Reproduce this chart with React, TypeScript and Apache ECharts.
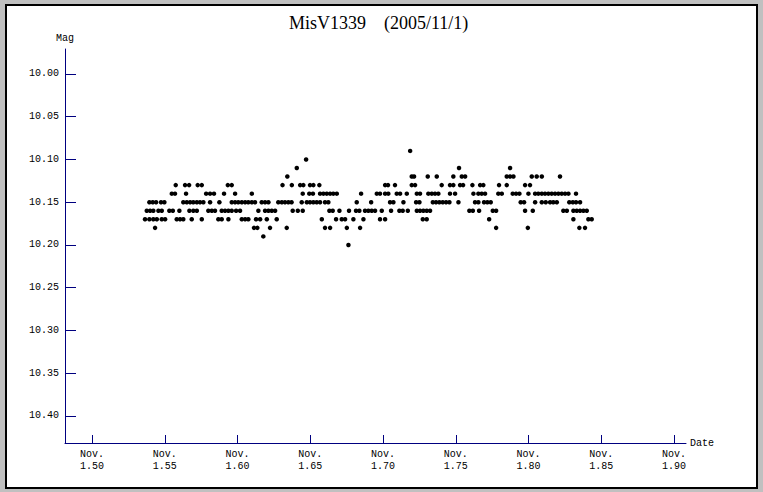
import React, { useEffect, useRef } from "react";
import * as echarts from "echarts";

// Observation dates (day of November, UT) grouped by measured magnitude
const magLevels = [10.09, 10.1, 10.11, 10.12, 10.13, 10.14, 10.15, 10.16, 10.17, 10.18, 10.19, 10.2];

const m1009 = [1.7186];
const m1010 = [1.6471];
const m1011 = [1.6407, 1.7522, 1.7873];
const m1012 = [1.6342, 1.7197, 1.7213, 1.7307, 1.7369, 1.7483, 1.7541, 1.7564, 1.785, 1.7873, 1.7896, 1.8022, 1.8056, 1.8091, 1.8216];
const m1013 = [1.5575, 1.5639, 1.5667, 1.5726, 1.5754, 1.5933, 1.596, 1.6309, 1.6373, 1.643, 1.6452, 1.6498, 1.6521, 1.6562, 1.7014, 1.7034, 1.7082, 1.7197, 1.722, 1.7403, 1.746, 1.7483, 1.7529, 1.755, 1.7614, 1.7667, 1.7689, 1.7797, 1.785, 1.7976, 1.801];
const m1014 = [1.5548, 1.557, 1.5646, 1.5784, 1.5811, 1.5838, 1.5907, 1.5983, 1.6098, 1.6448, 1.6493, 1.6518, 1.6567, 1.659, 1.6613, 1.6636, 1.6658, 1.6682, 1.6849, 1.6957, 1.6979, 1.7014, 1.7036, 1.7094, 1.7117, 1.7163, 1.7232, 1.7254, 1.7311, 1.7335, 1.7357, 1.738, 1.746, 1.7495, 1.7621, 1.7655, 1.7678, 1.7701, 1.7792, 1.7816, 1.7891, 1.7914, 1.7937, 1.7999, 1.8045, 1.8067, 1.8091, 1.8113, 1.8136, 1.8159, 1.8182, 1.8205, 1.8228, 1.8251, 1.8274, 1.8326];
const m1015 = [1.5394, 1.5417, 1.544, 1.5474, 1.5497, 1.5627, 1.5651, 1.5674, 1.5696, 1.572, 1.5742, 1.5765, 1.5811, 1.5875, 1.596, 1.5983, 1.6005, 1.6029, 1.6052, 1.6074, 1.6098, 1.612, 1.6166, 1.6189, 1.6212, 1.628, 1.6304, 1.6326, 1.6349, 1.6371, 1.6441, 1.6476, 1.6498, 1.6521, 1.6544, 1.6567, 1.6601, 1.6624, 1.6819, 1.6918, 1.7048, 1.7071, 1.714, 1.7227, 1.725, 1.7342, 1.7364, 1.7387, 1.741, 1.7433, 1.7456, 1.7518, 1.7632, 1.7655, 1.7694, 1.7717, 1.774, 1.7946, 1.7969, 1.8045, 1.8091, 1.8118, 1.8148, 1.817, 1.8194, 1.828, 1.8304, 1.8326, 1.8354];
const m1016 = [1.5376, 1.5399, 1.5421, 1.5456, 1.5479, 1.5531, 1.5555, 1.56, 1.5669, 1.5696, 1.572, 1.5799, 1.5823, 1.5845, 1.5891, 1.5914, 1.5937, 1.596, 1.599, 1.6017, 1.6143, 1.6189, 1.6212, 1.6235, 1.6258, 1.6379, 1.6414, 1.6448, 1.6631, 1.6654, 1.67, 1.6766, 1.6814, 1.6837, 1.6876, 1.6899, 1.6922, 1.6945, 1.6991, 1.7055, 1.7112, 1.7135, 1.717, 1.7232, 1.7254, 1.7277, 1.73, 1.7323, 1.7593, 1.7617, 1.766, 1.7754, 1.7777, 1.7976, 1.8029, 1.8239, 1.8263, 1.8308, 1.8331, 1.8354, 1.8377, 1.84];
const m1017 = [1.5364, 1.5394, 1.5421, 1.5445, 1.5479, 1.5502, 1.5582, 1.5605, 1.5627, 1.5685, 1.5754, 1.5868, 1.5891, 1.5937, 1.6029, 1.6052, 1.6074, 1.6127, 1.6155, 1.6201, 1.6269, 1.6579, 1.6677, 1.6716, 1.6739, 1.6796, 1.6865, 1.6979, 1.7014, 1.7273, 1.73, 1.7729, 1.8308, 1.8411, 1.8434];
const m1018 = [1.5433, 1.6113, 1.6136, 1.6223, 1.6338, 1.6601, 1.6636, 1.6751, 1.6842, 1.7777, 1.7995, 1.8349, 1.8388];
const m1019 = [1.6177];
const m1020 = [1.6762];

const dateLists = [m1009, m1010, m1011, m1012, m1013, m1014, m1015, m1016, m1017, m1018, m1019, m1020];

const xTicks = [1.5, 1.55, 1.6, 1.65, 1.7, 1.75, 1.8, 1.85, 1.9];
const yTicks = [10.0, 10.05, 10.1, 10.15, 10.2, 10.25, 10.3, 10.35, 10.4];

const titleText = "MisV1339\u3000(2005/11/1)";

export default function App() {
  const ref = useRef<HTMLDivElement>(null);

  useEffect(() => {
    if (!ref.current) return;
    const chart = echarts.init(ref.current, null, { renderer: "svg" });
    const points: number[][] = [];
    magLevels.forEach((m, i) => {
      dateLists[i].forEach((d) => points.push([d, m]));
    });
    const axisColor = "#000080";
    const mono = "'Liberation Mono', 'DejaVu Sans Mono', monospace";
    chart.setOption({
      animation: false,
      backgroundColor: "transparent",
      graphic: [
        {
          type: "rect",
          z: -10,
          silent: true,
          shape: { x: 6, y: 5, width: 751, height: 483 },
          style: { fill: "#ffffff", stroke: "#000000", lineWidth: 2 },
        },
      ],
      title: {
        text: titleText,
        left: 284,
        top: 9,
        textStyle: {
          fontFamily: "'Liberation Serif', serif",
          fontSize: 18,
          fontWeight: "normal",
          color: "#000000",
        },
      },
      grid: { left: 65, top: 49, right: 77, bottom: 49, containLabel: false },
      xAxis: {
        type: "value",
        min: 1.4814,
        max: 1.9082,
        name: "Date",
        nameLocation: "end",
        nameGap: 4,
        nameTextStyle: { fontFamily: mono, fontSize: 10, color: "#000000" },
        axisLine: { onZero: false, lineStyle: { color: axisColor, width: 1 } },
        axisTick: {
          inside: true,
          length: 8,
          customValues: xTicks,
          lineStyle: { color: axisColor, width: 1 },
        },
        axisLabel: {
          customValues: xTicks,
          margin: 5,
          fontFamily: mono,
          fontSize: 10,
          lineHeight: 12.5,
          color: "#000000",
          formatter: (v: number) => "Nov.\n" + v.toFixed(2),
        },
        splitLine: { show: false },
      },
      yAxis: {
        type: "value",
        inverse: true,
        min: 9.9708,
        max: 10.4316,
        name: "Mag",
        nameLocation: "start",
        nameGap: 6,
        nameTextStyle: { fontFamily: mono, fontSize: 10, color: "#000000", align: "center" },
        axisLine: { onZero: false, lineStyle: { color: axisColor, width: 1 } },
        axisTick: {
          inside: true,
          length: 11,
          customValues: yTicks,
          lineStyle: { color: axisColor, width: 1 },
        },
        axisLabel: {
          customValues: yTicks,
          margin: 6,
          fontFamily: mono,
          fontSize: 10,
          color: "#000000",
          formatter: (v: number) => v.toFixed(2),
        },
        splitLine: { show: false },
      },
      series: [
        {
          type: "scatter",
          data: points,
          symbol: "circle",
          symbolSize: 4.5,
          itemStyle: { color: "#000000", opacity: 1 },
        },
      ],
    });
    return () => chart.dispose();
  }, []);

  return (
    <div
      style={{
        position: "absolute",
        left: 0,
        top: 0,
        width: 763,
        height: 492,
        background: "#c0c0c0",
      }}
    >
      <div ref={ref} style={{ width: 763, height: 492 }} />
    </div>
  );
}
